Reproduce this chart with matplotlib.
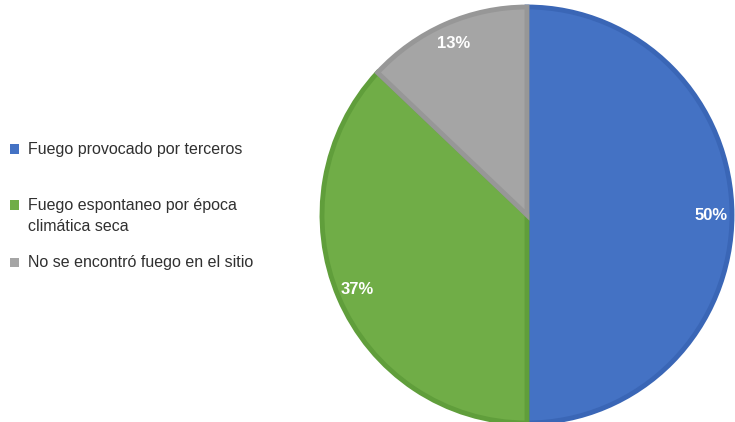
import matplotlib.pyplot as plt
from matplotlib.patches import Rectangle

plt.rcParams["font.family"] = ["Liberation Sans", "DejaVu Sans"]

categories = [
    "Fuego provocado por terceros",
    "Fuego espontaneo por época\nclimática seca",
    "No se encontró fuego en el sitio",
]
shares = [50, 37, 13]
colors = ["#4472C4", "#70AD47", "#A5A5A5"]
edges = ["#3A66B6", "#609E3B", "#979797"]

W, H = 735, 422
fig = plt.figure(figsize=(W / 100, H / 100), dpi=100)

# pie centre (527, 215) px from top-left, slightly wider than tall like the source
cx, cy, rx, ry = 527, H - 215, 205, 208
ax = fig.add_axes([(cx - rx) / W, (cy - ry) / H, 2 * rx / W, 2 * ry / H])
wedges, texts, autotexts = ax.pie(
    shares,
    colors=colors,
    startangle=90,
    counterclock=False,
    autopct="%d%%",
    pctdistance=0.9,
    wedgeprops=dict(linewidth=3.5),
    textprops=dict(color="white", fontsize=12, fontweight="bold"),
)
for w, ec in zip(wedges, edges):
    w.set_edgecolor(ec)
    w.set_clip_on(False)
ax.set_xlim(-1, 1)
ax.set_ylim(-1, 1)
ax.set_aspect("auto")

# legend drawn by hand to keep Excel-like spacing
legend_y = [149, 205, 262]
for lab, col, y in zip(categories, colors, legend_y):
    fig.patches.append(Rectangle((10 / W, (H - y - 4.5) / H), 9 / W, 9 / H,
                                 transform=fig.transFigure, facecolor=col,
                                 edgecolor="none"))
    fig.text(28 / W, (H - y + 7) / H, lab, fontsize=11.5, color="#303030",
             va="top", ha="left", linespacing=1.5)

fig.savefig("out.png", dpi=100)
